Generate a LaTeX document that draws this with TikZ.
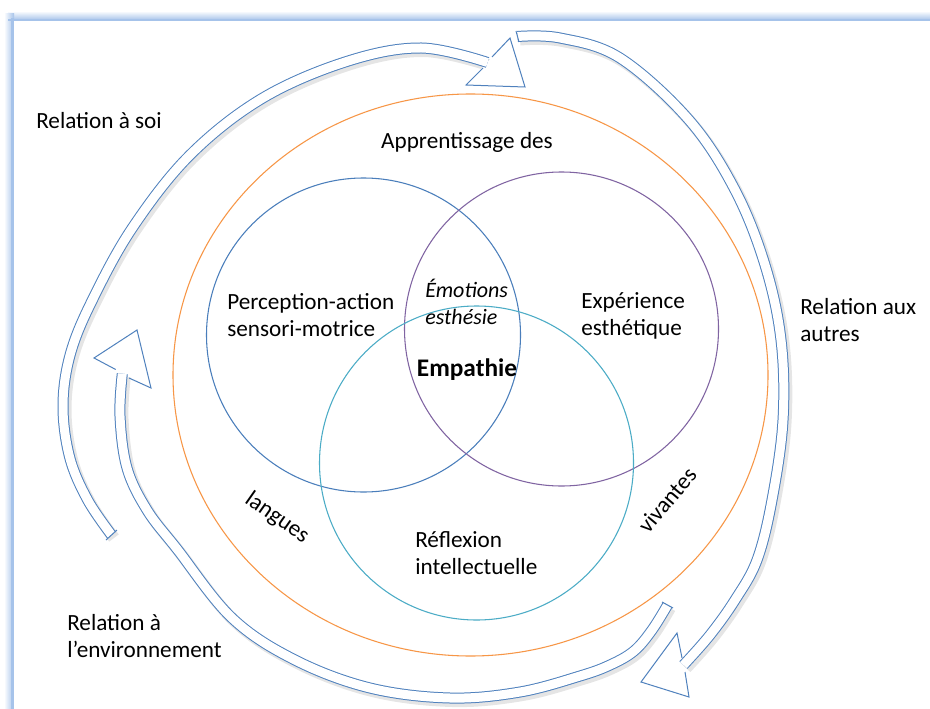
\documentclass[tikz,border=0pt]{standalone}
\usepackage{fontspec}
\setmainfont{Carlito}
\usetikzlibrary{calc}
\definecolor{arrowblue}{HTML}{4F81BD}
\definecolor{cblue}{HTML}{4A7EBB}
\definecolor{cpurple}{HTML}{8064A2}
\definecolor{cteal}{HTML}{4BACC6}
\definecolor{corange}{HTML}{F79646}
\definecolor{framecol}{HTML}{A6C3EA}
\begin{document}
\begin{tikzpicture}[x=0.75pt,y=-0.75pt,
  lbl/.style={font=\fontsize{17.4}{20.25}\selectfont, inner sep=0pt, align=left},
  ring/.style={line width=0.8pt},
  band/.style={draw=arrowblue, line width=0.75pt, double=white, double distance=6.75pt, line cap=butt},
  bandshadow/.style={draw=black, opacity=0.10, line width=9pt, transform canvas={shift={(2.5,3)}}},
  headline/.style={draw=arrowblue, line width=0.75pt, line join=miter},
]
\useasboundingbox (0,0) rectangle (930,709);
\fill[white] (0,0) rectangle (930,709);
% frame
\shade[top color=white, bottom color=framecol] (8,11) rectangle (930,20);
\shade[left color=white, right color=framecol] (4,14) rectangle (14,709);
\fill[framecol] (8,19) rectangle (930,21);
\fill[framecol] (11,18) rectangle (14,709);
\fill[white] (14,21) rectangle (930,709);

% circles
\draw[ring, corange] (470.5,375) ellipse [x radius=297.5, y radius=281];
\draw[ring, cblue] (363.5,335) circle [radius=157];
\draw[ring, cpurple] (561.5,329) circle [radius=157];
\draw[ring, cteal] (476.5,463) circle [radius=157];

% key points of the arrows
\coordinate (Atail) at (111.5,535);
\coordinate (Abase) at (487.5,62.5);
\coordinate (Btail) at (517.5,36.5);
\coordinate (Bbase) at (683.5,665);
\coordinate (Ctail) at (667.5,605);
\coordinate (Cbase) at (122.3,373.7);

\def\pathA{(Atail) (87.4,499.5) (69.6,457) (63,405) (70.6,353.1) (92.9,298.9) (132.6,227.5) (190,155) (262.8,98) (347.9,61.1) (421.3,48) (Abase)}
\def\pathB{(Btail) (560,38) (620,58) (689,120) (735,190) (765,265) (781,340) (783,420) (772,500) (757,560) (735,600) (710,635) (Bbase)}
\def\pathC{(Ctail) (652,630) (634,651) (610,665) (580,676) (520,692) (450,698) (370,688) (295,660) (232,618) (177,549) (147,510) (127,468) (120,416) (Cbase)}

% shadows
\draw[bandshadow] plot[smooth, tension=0.6] coordinates {\pathA};
\draw[bandshadow] plot[smooth, tension=0.6] coordinates {\pathB};
\draw[bandshadow] plot[smooth, tension=0.6] coordinates {\pathC};

% arrow heads (fill)
\fill[white] (510,38) -- (525,87) -- (466,85) -- cycle;
\fill[white] (677,633) -- (641,682) -- (689,697) -- cycle;
\fill[white] (94,358) -- (137,330) -- (151,388) -- cycle;

% bands
\draw[band] plot[smooth, tension=0.6] coordinates {\pathA};
\draw[band] plot[smooth, tension=0.6] coordinates {\pathB};
\draw[band] plot[smooth, tension=0.6] coordinates {\pathC};

% tail caps
\draw[headline] (106,540) -- (117,530);
\draw[headline] (516,31) -- (519,42);
\draw[headline] (662,602) -- (673,608);

% arrow head outlines
\draw[headline] (492,57) -- (510,38) -- (525,87) -- (466,85) -- (483,68);
\draw[headline] (682,658) -- (677,633) -- (641,682) -- (689,697) -- (685,672);
\draw[headline] (115.7,369.5) -- (94,358) -- (137,330) -- (151,388) -- (129,378);

% labels
\node[lbl, anchor=west] (soi) at (36,121) {Relation à soi};
\node[lbl, anchor=west] (autres) at (800,320) {Relation aux\\autres};
\node[lbl, anchor=west] (env) at (67,636) {Relation à\\l’environnement};
\node[lbl] (appr) at (467,142) {Apprentissage des};
\node[lbl, rotate=-35] (langues) at (277,518) {langues};
\node[lbl, rotate=50] (vivantes) at (667,500) {vivantes};
\node[lbl, anchor=west] (percep) at (227,315) {Perception-action\\sensori-motrice};
\node[lbl, anchor=west, font=\fontsize{16.5}{20.25}\selectfont\itshape] (emo) at (425,302) {Émotions\\esthésie};
\node[lbl, anchor=west] (exper) at (581,316) {Expérience\\esthétique};
\node[lbl, font=\fontsize{19}{20.25}\selectfont\bfseries] (empathie) at (467,370) {Empathie};
\node[lbl, anchor=west] (reflex) at (415,553) {Réflexion\\intellectuelle};
\end{tikzpicture}
\end{document}
